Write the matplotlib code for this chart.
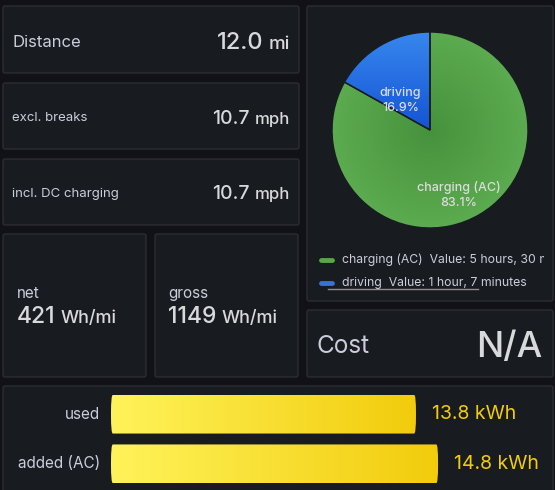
import matplotlib
matplotlib.use("Agg")
import matplotlib.pyplot as plt
import numpy as np
from matplotlib.patches import FancyBboxPatch

plt.rcParams['font.family'] = ['Inter', 'DejaVu Sans']

# data
stat_labels = ["Distance", "excl. breaks", "incl. DC charging"]
stat_values = [12.0, 10.7, 10.7]
stat_units = ["mi", "mph", "mph"]

eff_labels = ["net", "gross"]
eff_values = [421, 1149]
eff_unit = "Wh/mi"

pie_labels = ["charging (AC)", "driving"]
pie_minutes = [330, 67]
pie_colors = ["#56a64b", "#3274d9"]

energy_labels = ["used", "added (AC)"]
energy_values = [13.8, 14.8]
energy_unit = "kWh"

cost_label = "Cost"
cost_value = "N/A"

W, H = 555, 490
BG = "#111217"
PANEL = "#181b1f"
BORDER = "#2a2d33"
VAL = "#d8d9da"
LAB = "#ccccdc"

fig = plt.figure(figsize=(W / 100, H / 100), dpi=100, facecolor=BG)
bg = fig.add_axes([0, 0, 1, 1])
bg.set_xlim(0, W)
bg.set_ylim(H, 0)
bg.axis("off")
renderer = fig.canvas.get_renderer()


def panel(x0, y0, x1, y1):
    p = FancyBboxPatch((x0, y0), x1 - x0, y1 - y0, boxstyle="round,pad=0,rounding_size=2",
                       facecolor=PANEL, edgecolor=BORDER, linewidth=1)
    bg.add_patch(p)


def sub_axes(x0, y0, x1, y1):
    return fig.add_axes([x0 / W, 1 - y1 / H, (x1 - x0) / W, (y1 - y0) / H])


def num_unit(x, y, num, unit, nsize, usize, align="right", color=VAL, gap=5):
    inv = bg.transData.inverted()
    if align == "right":
        t = bg.text(x, y, unit, fontsize=usize, color=color, ha="right", va="baseline", fontweight="medium")
        bb = t.get_window_extent(renderer)
        xl = inv.transform((bb.x0, 0))[0]
        bg.text(xl - gap, y, num, fontsize=nsize, color=color, ha="right", va="baseline", fontweight="medium")
    else:
        t = bg.text(x, y, num, fontsize=nsize, color=color, ha="left", va="baseline", fontweight="medium")
        bb = t.get_window_extent(renderer)
        xr = inv.transform((bb.x1, 0))[0]
        bg.text(xr + gap, y, unit, fontsize=usize, color=color, ha="left", va="baseline", fontweight="medium")


def fmt_minutes(m):
    h, mm = divmod(m, 60)
    hs = f"{h} hour" + ("s" if h != 1 else "")
    ms = f"{mm} minute" + ("s" if mm != 1 else "")
    return f"{hs}, {ms}"


# panels
panel(3, 6, 299, 73)
panel(3, 83, 299, 149)
panel(3, 159, 299, 225)
panel(3, 234, 146, 377)
panel(155, 234, 298, 377)
panel(307, 6, 553, 301)
panel(307, 310, 553, 377)
panel(3, 386, 553, 500)

# stat panels
stat_y = [(47, 49), (121, 124), (197, 199)]
label_sizes = [12, 9.5, 9.5]
num_sizes = [17, 14, 14]
unit_sizes = [13.5, 12, 12]
for i in range(3):
    bg.text(12, stat_y[i][0], stat_labels[i], fontsize=label_sizes[i], color=LAB, va="baseline")
    num_unit(290, stat_y[i][1], f"{stat_values[i]:.1f}", stat_units[i], num_sizes[i], unit_sizes[i])

# efficiency panels
for i, x in enumerate([17, 168]):
    bg.text(x, 298, eff_labels[i], fontsize=11, color=LAB, va="baseline")
    num_unit(x, 323, f"{eff_values[i]}", eff_unit, 16.5, 13, align="left")

# cost
bg.text(317, 353, cost_label, fontsize=17.5, color=LAB, va="baseline")
bg.text(542, 357, cost_value, fontsize=26, color=VAL, ha="right", va="baseline", fontweight="medium")

# pie
pax = sub_axes(332, 32, 528, 228)
pax.set_xlim(-1, 1)
pax.set_ylim(-1, 1)
pax.axis("off")
order = [1, 0]
wedges, _ = pax.pie([pie_minutes[k] for k in order], startangle=90, counterclock=True, radius=1,
                    colors=[pie_colors[k] for k in order],
                    wedgeprops=dict(edgecolor=PANEL, linewidth=1))
gx, gy = np.meshgrid(np.linspace(-1, 1, 300), np.linspace(-1, 1, 300))


def grad(c0, c1, t):
    c0 = np.array(matplotlib.colors.to_rgb(c0))
    c1 = np.array(matplotlib.colors.to_rgb(c1))
    t = np.clip(t, 0, 1)[..., None]
    return c0 * (1 - t) + c1 * t


imgs = [grad("#1453d4", "#3787ee", gy), grad("#47913c", "#5cab50", np.hypot(gx, gy))]
for w, img in zip(wedges, imgs):
    im = pax.imshow(img, extent=(-1, 1, -1, 1), origin="lower", zorder=1)
    im.set_clip_path(w)
    w.set_facecolor("none")
    w.set_zorder(2)
pax.set_xlim(-1, 1)
pax.set_ylim(-1, 1)

total = sum(pie_minutes)
pie_text_pos = [(0.29, -0.66), (-0.30, 0.30)]
for i in range(2):
    pax.text(pie_text_pos[i][0], pie_text_pos[i][1],
             f"{pie_labels[i]}\n{pie_minutes[i] / total * 100:.1f}%",
             fontsize=9, color="#dcdcdc", ha="center", va="center", zorder=3,
             linespacing=1.3, fontweight="medium")

# legend
lax = sub_axes(307, 248, 544, 298)
lax.set_xlim(307, 544)
lax.set_ylim(298, 248)
lax.axis("off")
for i, y in enumerate([260, 283]):
    lax.plot([321, 332], [y, y], color=pie_colors[i], lw=3.5, solid_capstyle="round")
    lax.text(342, y, f"{pie_labels[i]}  Value: {fmt_minutes(pie_minutes[i])}",
             fontsize=8.8, color=LAB, va="center", clip_on=True)
lax.plot([328, 478], [289, 289], color="#8e8e8e", lw=1)

# energy bars
bax = sub_axes(111, 389.5, 531, 488.5)
bax.set_xlim(0, 420 / 22.1)
bax.set_ylim(1.5, -0.5)
bax.axis("off")
bh = 0.78
for i, v in enumerate(energy_values):
    bar = FancyBboxPatch((0, i - bh / 2), v, bh, boxstyle="round,pad=0,rounding_size=0.08",
                         facecolor="none", edgecolor="none", mutation_aspect=4.5)
    bax.add_patch(bar)
    g = grad("#fff35a", "#f2cc0c", np.linspace(0, 1, 200)[None, :])
    im = bax.imshow(g, extent=(0, v, i + bh / 2, i - bh / 2), aspect="auto", zorder=1)
    im.set_clip_path(bar)
    bax.text(v + 0.72, i, f"{v:.1f} {energy_unit}", fontsize=14, color="#f2cc0c", va="center")
    bg.text(100, 414 + i * 49.5, energy_labels[i], fontsize=11, color=LAB, ha="right", va="center")
bax.set_xlim(0, 420 / 22.1)
bax.set_ylim(1.5, -0.5)

fig.savefig("out.png", dpi=100, facecolor=BG)
